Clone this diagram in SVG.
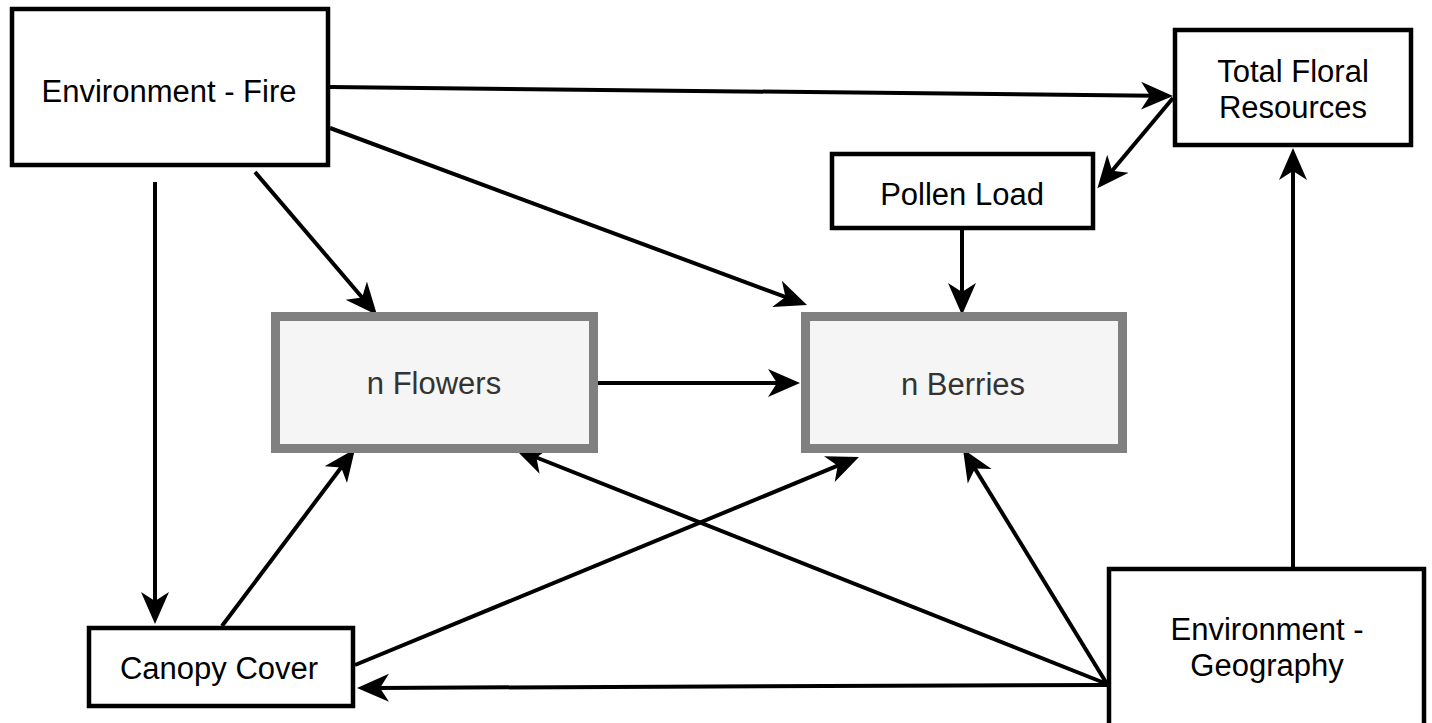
<svg xmlns="http://www.w3.org/2000/svg" width="1432" height="723" viewBox="0 0 1432 723">
<style>
.box{fill:#ffffff;stroke:#000000;stroke-width:4.5}
.gbox{fill:#f5f5f5;stroke:#808080;stroke-width:9}
.t{font-family:"Liberation Sans",Arial,sans-serif;font-size:31px;fill:#000000;text-anchor:middle}
.gt{fill:#333333}
.c{stroke:#000000;stroke-width:4;fill:none;marker-end:url(#ah)}
</style>
<defs>
<marker id="ah" markerUnits="userSpaceOnUse" markerWidth="34" markerHeight="32" viewBox="0 -16 34 32" refX="13" refY="0" orient="auto">
<path d="M0,-14 L32,0 L0,14 L9,0 Z" fill="#000000"/>
</marker>
</defs>
<rect width="1432" height="723" fill="#ffffff"/>
<g id="connectors">
<line class="c" x1="330" y1="87" x2="1154" y2="95.8"/>
<line class="c" x1="1173" y1="98" x2="1109.6" y2="173.8"/>
<line class="c" x1="255" y1="172" x2="364.7" y2="300.5"/>
<line class="c" x1="330" y1="128" x2="789.2" y2="298.4"/>
<line class="c" x1="155" y1="182" x2="155" y2="605"/>
<line class="c" x1="962" y1="230" x2="962" y2="296"/>
<line class="c" x1="598" y1="383" x2="781" y2="383"/>
<line class="c" x1="222" y1="626" x2="343.6" y2="464.2"/>
<line class="c" x1="355" y1="665" x2="841.4" y2="464.2"/>
<line class="c" x1="1107" y1="684" x2="532.7" y2="456"/>
<line class="c" x1="1107" y1="684" x2="972.9" y2="465.2"/>
<line class="c" x1="1107" y1="685" x2="376" y2="687.9"/>
<line class="c" x1="1293" y1="567" x2="1293" y2="167"/>
</g>
<g id="fire">
<rect class="box" x="12" y="9" width="316" height="156"/>
<text class="t" x="169" y="101.5">Environment - Fire</text>
</g>
<g id="total-floral">
<rect class="box" x="1175" y="30" width="236" height="115"/>
<text class="t" x="1293" y="82">Total Floral</text>
<text class="t" x="1293" y="118">Resources</text>
</g>
<g id="pollen">
<rect class="box" x="832" y="154" width="261" height="74"/>
<text class="t" x="962" y="205">Pollen Load</text>
</g>
<g id="flowers">
<rect class="gbox" x="275.5" y="316.5" width="318" height="132"/>
<text class="t gt" x="434" y="394">n Flowers</text>
</g>
<g id="berries">
<rect class="gbox" x="805.5" y="316.5" width="317" height="132"/>
<text class="t gt" x="963" y="395">n Berries</text>
</g>
<g id="canopy">
<rect class="box" x="89" y="628" width="264" height="78"/>
<text class="t" x="219" y="679">Canopy Cover</text>
</g>
<g id="geography">
<rect class="box" x="1109" y="569" width="315" height="170"/>
<text class="t" x="1267" y="640">Environment -</text>
<text class="t" x="1267" y="676">Geography</text>
</g>
</svg>
